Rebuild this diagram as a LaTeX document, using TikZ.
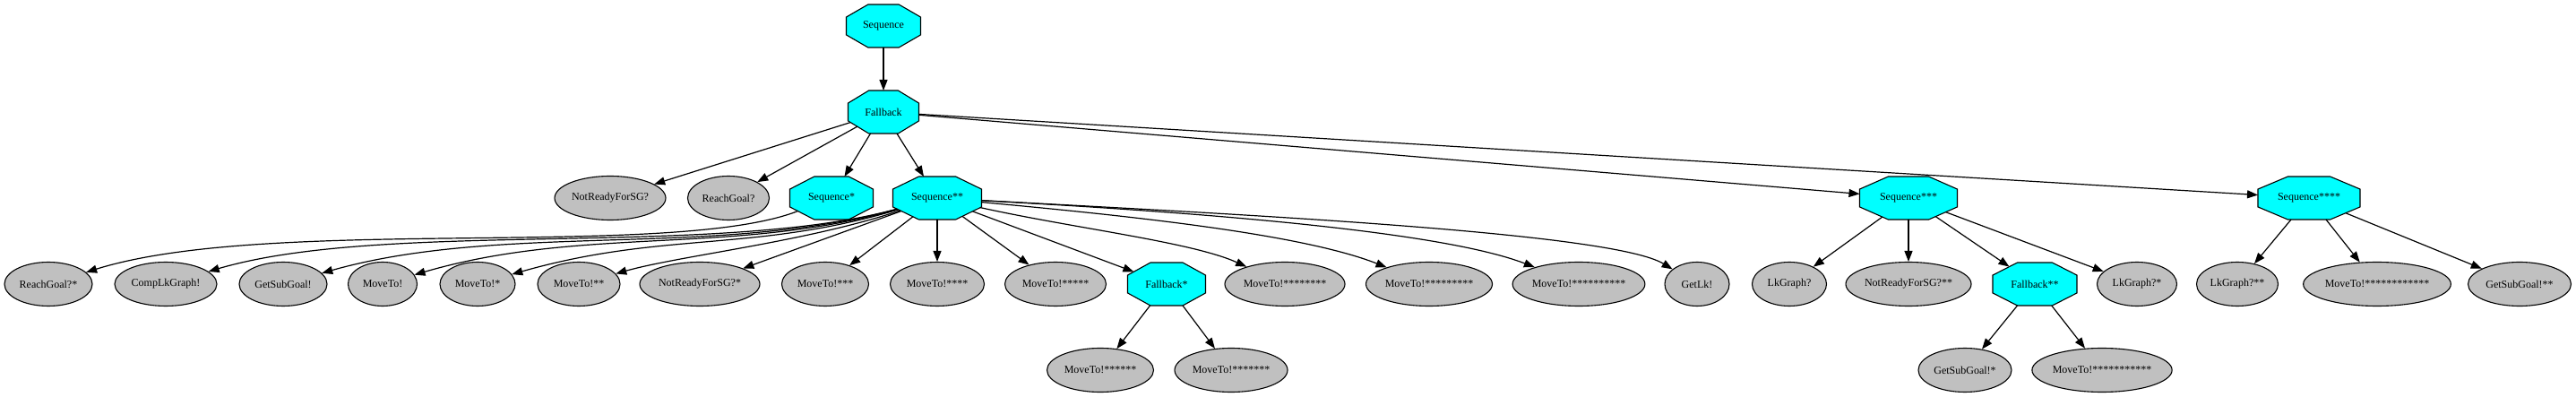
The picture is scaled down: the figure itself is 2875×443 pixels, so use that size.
\documentclass[tikz,border=0pt]{standalone}
\usepackage{fontspec}
\setmainfont{Liberation Serif}
\usetikzlibrary{shapes.geometric,arrows.meta}
\definecolor{ocfill}{RGB}{0,255,255}
\definecolor{elfill}{RGB}{192,192,192}
\makeatletter
\pgfdeclareshape{octo}{%
  \inheritsavedanchors[from=rectangle]%
  \inheritanchor[from=rectangle]{center}%
  \inheritanchor[from=rectangle]{north}%
  \inheritanchor[from=rectangle]{south}%
  \inheritanchor[from=rectangle]{east}%
  \inheritanchor[from=rectangle]{west}%
  \anchorborder{%
    \edef\octo@dx{\strip@pt\pgf@x}%
    \edef\octo@dy{\strip@pt\pgf@y}%
    \southwest \pgf@xa=\pgf@x \pgf@ya=\pgf@y
    \northeast \pgf@xb=\pgf@x \pgf@yb=\pgf@y
    \pgf@xc=\pgf@xb \advance\pgf@xc by-\pgf@xa \pgf@xc=.5\pgf@xc
    \pgf@yc=\pgf@yb \advance\pgf@yc by-\pgf@ya \pgf@yc=.5\pgf@yc
    \edef\octo@a{\strip@pt\pgf@xc}%
    \edef\octo@b{\strip@pt\pgf@yc}%
    \advance\pgf@xa by\pgf@xc \advance\pgf@ya by\pgf@yc
    \edef\octo@cx{\strip@pt\pgf@xa}%
    \edef\octo@cy{\strip@pt\pgf@ya}%
    \pgfmathsetmacro\octo@u{abs(\octo@dx)/\octo@a}%
    \pgfmathsetmacro\octo@v{abs(\octo@dy)/\octo@b}%
    \pgfmathsetmacro\octo@m{max(\octo@u,\octo@v,(\octo@u+\octo@v)/1.41421)}%
    \pgfmathsetmacro\octo@X{\octo@cx+(\octo@dx)/\octo@m}%
    \pgfmathsetmacro\octo@Y{\octo@cy+(\octo@dy)/\octo@m}%
    \pgf@x=\octo@X pt\relax
    \pgf@y=\octo@Y pt\relax
  }%
  \backgroundpath{%
    \southwest \pgf@xa=\pgf@x \pgf@ya=\pgf@y
    \northeast \pgf@xb=\pgf@x \pgf@yb=\pgf@y
    \pgf@xc=\pgf@xb \advance\pgf@xc by-\pgf@xa \pgf@xc=0.29289\pgf@xc
    \pgf@yc=\pgf@yb \advance\pgf@yc by-\pgf@ya \pgf@yc=0.29289\pgf@yc
    \edef\octo@xA{\the\pgf@xa}%
    \edef\octo@xD{\the\pgf@xb}%
    \edef\octo@yA{\the\pgf@ya}%
    \edef\octo@yD{\the\pgf@yb}%
    \pgf@x=\pgf@xa \advance\pgf@x by\pgf@xc \edef\octo@xB{\the\pgf@x}%
    \pgf@x=\pgf@xb \advance\pgf@x by-\pgf@xc \edef\octo@xC{\the\pgf@x}%
    \pgf@y=\pgf@ya \advance\pgf@y by\pgf@yc \edef\octo@yB{\the\pgf@y}%
    \pgf@y=\pgf@yb \advance\pgf@y by-\pgf@yc \edef\octo@yC{\the\pgf@y}%
    \pgfpathmoveto{\pgfqpoint{\octo@xB}{\octo@yA}}%
    \pgfpathlineto{\pgfqpoint{\octo@xC}{\octo@yA}}%
    \pgfpathlineto{\pgfqpoint{\octo@xD}{\octo@yB}}%
    \pgfpathlineto{\pgfqpoint{\octo@xD}{\octo@yC}}%
    \pgfpathlineto{\pgfqpoint{\octo@xC}{\octo@yD}}%
    \pgfpathlineto{\pgfqpoint{\octo@xB}{\octo@yD}}%
    \pgfpathlineto{\pgfqpoint{\octo@xA}{\octo@yC}}%
    \pgfpathlineto{\pgfqpoint{\octo@xA}{\octo@yB}}%
    \pgfpathclose
  }%
}
\makeatother
\begin{document}
\begin{tikzpicture}[x=1pt,y=-1pt,
  oct/.style={shape=octo, draw, line width=1.1pt, fill=ocfill, inner sep=0pt, outer sep=0pt,
    minimum height=48pt, minimum width=#1, font=\fontsize{12}{14}\selectfont},
  ell/.style={ellipse, draw, line width=1.1pt, fill=elfill, inner sep=0pt,
    minimum height=49pt, minimum width=#1, font=\fontsize{12}{14}\selectfont},
  conn/.style={line width=1.2pt, -{Triangle[length=12pt,width=9pt]}}]
\useasboundingbox (0,0) rectangle (2875,443);
% top
\node[oct=83pt] (seq0) at (986,29) {Sequence};
\node[oct=79pt] (fb0) at (986,125) {Fallback};
% row 1
\node[ell=124pt] (nr1) at (681,221) {NotReadyForSG?};
\node[ell=91pt] (rg1) at (813,221) {ReachGoal?};
\node[oct=93pt] (seqA) at (928,221) {Sequence*};
\node[oct=99pt] (seqB) at (1046,221) {Sequence**};
\node[oct=109pt] (seqC) at (2130,221) {Sequence***};
\node[oct=114pt] (seqD) at (2577,221) {Sequence****};
% row 2
\node[ell=98pt] (rg2) at (54,317) {ReachGoal?*};
\node[ell=114pt] (clg) at (185,317) {CompLkGraph!};
\node[ell=98pt] (gsg1) at (316,317) {GetSubGoal!};
\node[ell=77pt] (mt0) at (427,317) {MoveTo!};
\node[ell=84pt] (mt1) at (533,317) {MoveTo!*};
\node[ell=92pt] (mt2) at (646,317) {MoveTo!**};
\node[ell=134pt] (nr2) at (781,317) {NotReadyForSG?*};
\node[ell=97pt] (mt3) at (921,317) {MoveTo!***};
\node[ell=105pt] (mt4) at (1046,317) {MoveTo!****};
\node[ell=113pt] (mt5) at (1178,317) {MoveTo!*****};
\node[oct=87pt] (fbA) at (1302,317) {Fallback*};
\node[ell=134pt] (mt8) at (1434,317) {MoveTo!********};
\node[ell=141pt] (mt9) at (1595,317) {MoveTo!*********};
\node[ell=145pt] (mt10) at (1762,317) {MoveTo!**********};
\node[ell=72pt] (glk) at (1894,317) {GetLk!};
\node[ell=83pt] (lk1) at (1997,317) {LkGraph?};
\node[ell=140pt] (nr3) at (2130,317) {NotReadyForSG?**};
\node[oct=94pt] (fbB) at (2271,317) {Fallback**};
\node[ell=89pt] (lk2) at (2385,317) {LkGraph?*};
\node[ell=91pt] (lk3) at (2497,317) {LkGraph?**};
\node[ell=162pt] (mt12) at (2653,317) {MoveTo!************};
\node[ell=115pt] (gsg3) at (2812,317) {GetSubGoal!**};
% row 3
\node[ell=119pt] (mt6) at (1228,413) {MoveTo!******};
\node[ell=126pt] (mt7) at (1374,413) {MoveTo!*******};
\node[ell=104pt] (gsg2) at (2193,413) {GetSubGoal!*};
\node[ell=156pt] (mt11) at (2346,413) {MoveTo!***********};
% edges
\draw[conn] (seq0) -- (fb0);
\draw[conn] (fb0) -- (nr1);
\draw[conn] (fb0) -- (rg1);
\draw[conn] (fb0) -- (seqA);
\draw[conn] (fb0) -- (seqB);
\draw[conn] (fb0) -- (seqC);
\draw[conn] (fb0) -- (seqD);
% Sequence* child
\draw[conn] (seqA) .. controls (750,290) and (300,240) .. (rg2);
% Sequence** children, left
\draw[conn] (seqB) .. controls (800,288) and (430,245) .. (clg);
\draw[conn] (seqB) .. controls (800,288) and (560,248) .. (gsg1);
\draw[conn] (seqB) .. controls (820,285) and (650,252) .. (mt0);
\draw[conn] (seqB) .. controls (840,282) and (740,258) .. (mt1);
\draw[conn] (seqB) .. controls (900,270) and (760,285) .. (mt2);
\draw[conn] (seqB) -- (nr2);
\draw[conn] (seqB) -- (mt3);
\draw[conn] (seqB) -- (mt4);
\draw[conn] (seqB) -- (mt5);
\draw[conn] (seqB) -- (fbA);
\draw[conn] (seqB) .. controls (1200,255) and (1330,270) .. (mt8);
\draw[conn] (seqB) .. controls (1250,240) and (1450,260) .. (mt9);
\draw[conn] (seqB) .. controls (1300,235) and (1600,255) .. (mt10);
\draw[conn] (seqB) .. controls (1400,240) and (1800,260) .. (glk);
% Fallback*
\draw[conn] (fbA) -- (mt6);
\draw[conn] (fbA) -- (mt7);
% Sequence***
\draw[conn] (seqC) -- (lk1);
\draw[conn] (seqC) -- (nr3);
\draw[conn] (seqC) -- (fbB);
\draw[conn] (seqC) -- (lk2);
\draw[conn] (fbB) -- (gsg2);
\draw[conn] (fbB) -- (mt11);
% Sequence****
\draw[conn] (seqD) -- (lk3);
\draw[conn] (seqD) -- (mt12);
\draw[conn] (seqD) -- (gsg3);
\end{tikzpicture}
\end{document}
